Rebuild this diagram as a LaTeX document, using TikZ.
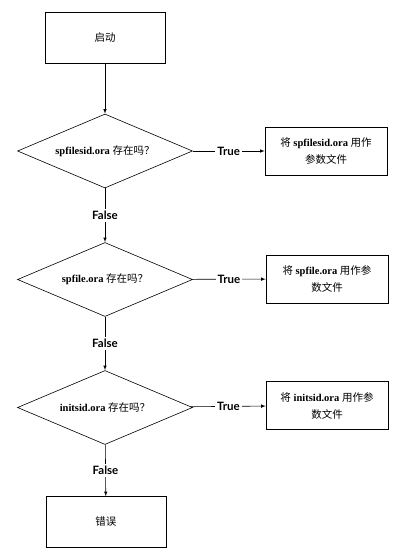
\documentclass[tikz,border=0pt]{standalone}
\usepackage{fontspec}
\setmainfont{Liberation Serif}
\newfontfamily\cjk{Noto Sans CJK SC}
\newfontfamily\lbl{Lato}
\usetikzlibrary{shapes.geometric}
\newcommand{\zh}[1]{{\cjk\mdseries #1}}

\tikzset{
  box/.style={draw, line width=0.6pt, minimum width=120pt, minimum height=51pt, inner sep=0pt, font=\fontsize{10.5}{13}\selectfont},
  cond/.style={draw, diamond, aspect=2.4, line width=0.6pt, minimum width=175pt, minimum height=74pt, inner sep=0pt, font=\fontsize{10.5}{13}\selectfont\bfseries},
  result/.style={draw, line width=0.6pt, minimum width=122pt, minimum height=48pt, inner sep=0pt, align=center, font=\fontsize{10.5}{17}\selectfont\bfseries},
  flow/.style={draw, line width=0.6pt, -latex},
  tag/.style={fill=white, inner sep=2pt, font=\fontsize{11.5}{13}\selectfont\lbl\bfseries}
}

\begin{document}
\begin{tikzpicture}[x=1pt,y=-1pt]
\useasboundingbox[fill=white] (0,0) rectangle (416,558);

\node[box] (start) at (105,37.5) {\zh{启动}};
\node[cond] (q1) at (105,151) {spfilesid.ora \zh{存在吗？}};
\node[cond] (q2) at (105,279.5) {spfile.ora \zh{存在吗？}};
\node[cond] (q3) at (105,407.5) {initsid.ora \zh{存在吗？}};
\node[box] (err) at (106,522) {\zh{错误}};

\node[result] (r1) at (326,151) {\zh{将} spfilesid.ora \zh{用作}\\\zh{参数文件}};
\node[result] (r2) at (327,279) {\zh{将} spfile.ora \zh{用作参}\\\zh{数文件}};
\node[result] (r3) at (327,405.5) {\zh{将} initsid.ora \zh{用作参}\\\zh{数文件}};

\draw[flow] (start) -- (q1);
\draw[flow] (q1) -- node[tag] {False} (q2);
\draw[flow] (q2) -- node[tag] {False} (q3);
\draw[flow] (q3) -- node[tag] {False} (err);
\foreach \i in {1,2,3} {
  \draw[flow] (q\i) -- node[tag] {True} (r\i);
}
\end{tikzpicture}
\end{document}
